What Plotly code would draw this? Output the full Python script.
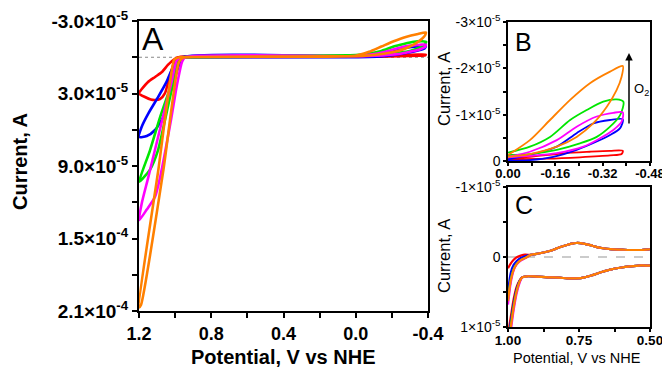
import plotly.graph_objects as go

FONT = "Liberation Sans, Arial, sans-serif"
W, H = 662, 368

series_names = ["red", "blue", "green", "magenta", "orange"]
series_colors = {"red": "#ff0000", "blue": "#0000ff", "green": "#00e600",
                 "magenta": "#ff00ff", "orange": "#ff8000"}

# ---------------- Panel A : oxidation region (V vs NHE, current A) ----------------
a_red_ox_v = [0.95, 0.984, 1.017, 1.04, 1.073, 1.111, 1.15, 1.2, 1.167, 1.135, 1.111, 1.084, 1.056, 1.028, 1.0, 0.98]
a_red_ox_i = [0, 0, 3.1e-6, 6.4e-6, 1.22e-5, 1.63e-5, 2.05e-5, 3.0e-5, 3.29e-5, 3.5e-5, 3.54e-5, 3.46e-5, 2.96e-5, 1.47e-5, 2.3e-6, 0]

a_blue_ox_v = [0.94, 0.964, 1.019, 1.047, 1.093, 1.148, 1.185, 1.2, 1.157, 1.111, 1.065, 1.038, 1.01, 0.982, 0.955]
a_blue_ox_i = [0, 0, 1.06e-5, 2.02e-5, 3.26e-5, 4.64e-5, 5.75e-5, 6.6e-5, 6.52e-5, 6.02e-5, 4.92e-5, 3.54e-5, 2.16e-5, 7.8e-6, 0]

a_green_ox_v = [0.94, 0.956, 0.99, 1.028, 1.084, 1.139, 1.2, 1.19, 1.139, 1.095, 1.056, 1.017, 0.973, 0.945]
a_green_ox_i = [0, 0, 6.4e-6, 2.55e-5, 5.0e-5, 7.7e-5, 1.03e-4, 1.02e-4, 9.3e-5, 7.7e-5, 5.2e-5, 2.55e-5, 2.3e-6, 0]

a_magenta_ox_v = [0.95, 0.99, 1.017, 1.069, 1.148, 1.185, 1.2, 1.157, 1.111, 1.084, 1.023, 0.99, 0.962, 0.945]
a_magenta_ox_i = [0, 2.5e-6, 1.88e-5, 5.05e-5, 9.9e-5, 1.21e-4, 1.35e-4, 1.26e-4, 1.155e-4, 1.0e-4, 5.2e-5, 2.3e-5, 3.9e-6, 0]

a_orange_ox_v = [0.973, 0.992, 1.006, 1.093, 1.2, 1.189, 1.065, 0.979, 0.96, 0.945]
a_orange_ox_i = [0, 7e-7, 2.3e-6, 9.33e-5, 2.07e-4, 2.05e-4, 9.33e-5, 3.9e-6, 8e-7, 0]

# ---------------- Panel B : O2 reduction region ----------------
b_red_v = [0, -0.074, -0.187, -0.277, -0.345, -0.388, -0.384, -0.345, -0.243, -0.131, 0]
b_red_i = [-0.6e-6, -0.9e-6, -1.66e-6, -2.0e-6, -2.2e-6, -2.2e-6, -1.5e-6, -1.2e-6, -0.8e-6, -0.5e-6, -0.4e-6]

b_blue_v = [0, -0.074, -0.165, -0.232, -0.288, -0.345, -0.388, -0.379, -0.345, -0.3, -0.232, -0.153, -0.074, 0]
b_blue_i = [-0.4e-6, -1.3e-6, -3.1e-6, -6.0e-6, -8.1e-6, -8.85e-6, -9.0e-6, -7.1e-6, -5.6e-6, -4.2e-6, -2.4e-6, -0.9e-6, -0.2e-6, -0.1e-6]

b_green_v = [0, -0.074, -0.142, -0.21, -0.266, -0.322, -0.367, -0.39, -0.379, -0.345, -0.3, -0.243, -0.165, -0.074, 0]
b_green_i = [-1.8e-6, -3.1e-6, -5.2e-6, -8.85e-6, -1.1e-5, -1.28e-5, -1.33e-5, -1.28e-5, -9.9e-6, -7.4e-6, -5.2e-6, -3.8e-6, -2.4e-6, -1.5e-6, -1.3e-6]

b_magenta_v = [0, -0.074, -0.165, -0.232, -0.3, -0.356, -0.388, -0.384, -0.356, -0.311, -0.255, -0.165, -0.074, 0]
b_magenta_i = [-0.9e-6, -2.0e-6, -4.5e-6, -7.4e-6, -9.6e-6, -1.04e-5, -1.05e-5, -8.5e-6, -6.7e-6, -4.9e-6, -3.1e-6, -1.7e-6, -1.1e-6, -0.8e-6]

b_orange_v = [0, -0.074, -0.142, -0.21, -0.277, -0.345, -0.388, -0.384, -0.367, -0.334, -0.288, -0.232, -0.165, -0.074, 0]
b_orange_i = [-1.3e-6, -4.5e-6, -8.85e-6, -1.32e-5, -1.68e-5, -1.93e-5, -2.05e-5, -1.82e-5, -1.53e-5, -1.17e-5, -8.1e-6, -5.2e-6, -3.1e-6, -1.5e-6, -0.9e-6]

# ---------------- Panel C : 1.0 - 0.5 V region ----------------
c_head_v = [1.0, 0.99, 0.98, 0.97, 0.955, 0.94]
c_red_head = [1.6e-6, 0.9e-6, 0.4e-6, 0.05e-6, -0.2e-6, -0.35e-6]
c_blue_head = [5.0e-6, 2.2e-6, 1.1e-6, 0.6e-6, 0.15e-6, -0.1e-6]
c_green_head = [6.0e-6, 3.2e-6, 1.7e-6, 1.0e-6, 0.45e-6, 0.15e-6]
c_magenta_head = [6.8e-6, 3.6e-6, 1.9e-6, 1.1e-6, 0.5e-6, 0.2e-6]
c_orange_head = [6.3e-6, 3.3e-6, 1.8e-6, 1.05e-6, 0.45e-6, 0.15e-6]

c_upper_v = [0.92, 0.9, 0.875, 0.85, 0.83, 0.81, 0.79, 0.775, 0.76, 0.745, 0.73, 0.71, 0.69, 0.665, 0.64, 0.6, 0.57, 0.53, 0.48]
c_upper_i = [-0.3e-6, -0.45e-6, -0.65e-6, -0.9e-6, -1.2e-6, -1.5e-6, -1.75e-6, -1.92e-6, -2.0e-6, -1.98e-6,
             -1.88e-6, -1.7e-6, -1.45e-6, -1.25e-6, -1.12e-6, -1.05e-6, -1.0e-6, -1.0e-6, -1.0e-6]

c_lower_v = [0.48, 0.53, 0.57, 0.6, 0.64, 0.67, 0.7, 0.73, 0.76, 0.79, 0.82, 0.86, 0.9, 0.93, 0.95]
c_lower_i = [1.1e-6, 1.2e-6, 1.35e-6, 1.5e-6, 1.8e-6, 2.15e-6, 2.55e-6, 2.9e-6, 3.05e-6, 3.05e-6,
             2.95e-6, 2.9e-6, 2.8e-6, 2.75e-6, 2.9e-6]

c_tail_v = [0.96, 0.97, 0.98, 0.99, 1.0]
c_red_tail = [3.4e-6, 4.3e-6, 6.0e-6, 8.5e-6, 1.1e-5]
c_blue_tail = [3.5e-6, 4.6e-6, 6.6e-6, 9.2e-6, 1.2e-5]
c_green_tail = [3.6e-6, 4.9e-6, 7.0e-6, 9.7e-6, 1.25e-5]
c_magenta_tail = [3.8e-6, 5.3e-6, 7.6e-6, 1.05e-5, 1.35e-5]
c_orange_tail = [3.6e-6, 5.0e-6, 7.2e-6, 1.0e-5, 1.3e-5]

# ---------------- tick labels ----------------
a_xticks = [1.2, 0.8, 0.4, 0.0, -0.4]
a_xticktext = ["1.2", "0.8", "0.4", "0.0", "-0.4"]
a_yticks = [-3e-5, 3e-5, 9e-5, 1.5e-4, 2.1e-4]
a_yticktext = ["-3.0×10<sup>-5</sup>", "3.0×10<sup>-5</sup>", "9.0×10<sup>-5</sup>",
               "1.5×10<sup>-4</sup>", "2.1×10<sup>-4</sup>"]
b_xticks = [0.0, -0.16, -0.32, -0.48]
b_xticktext = ["0.00", "-0.16", "-0.32", "-0.48"]
b_yticks = [0, -1e-5, -2e-5, -3e-5]
b_yticktext = ["0", "-1×10<sup>-5</sup>", "-2×10<sup>-5</sup>", "-3×10<sup>-5</sup>"]
c_xticks = [1.0, 0.75, 0.5]
c_xticktext = ["1.00", "0.75", "0.50"]
c_yticks = [-1e-5, 0, 1e-5]
c_yticktext = ["-1×10<sup>-5</sup>", "0", "1×10<sup>-5</sup>"]

A_ox = {"red": (a_red_ox_v, a_red_ox_i), "blue": (a_blue_ox_v, a_blue_ox_i),
        "green": (a_green_ox_v, a_green_ox_i), "magenta": (a_magenta_ox_v, a_magenta_ox_i),
        "orange": (a_orange_ox_v, a_orange_ox_i)}
B_red = {"red": (b_red_v, b_red_i), "blue": (b_blue_v, b_blue_i),
         "green": (b_green_v, b_green_i), "magenta": (b_magenta_v, b_magenta_i),
         "orange": (b_orange_v, b_orange_i)}
C_head = {"red": c_red_head, "blue": c_blue_head, "green": c_green_head,
          "magenta": c_magenta_head, "orange": c_orange_head}
C_tail = {"red": c_red_tail, "blue": c_blue_tail, "green": c_green_tail,
          "magenta": c_magenta_tail, "orange": c_orange_tail}

fig = go.Figure()

for name in series_names:
    col = series_colors[name]
    ov, oi = A_ox[name]
    bv, bi = B_red[name]
    fig.add_trace(go.Scatter(x=ov + bv + [ov[0]], y=oi + bi + [oi[0]], mode="lines",
                             line=dict(color=col, width=2.6, shape="spline", smoothing=0.6),
                             xaxis="x", yaxis="y", showlegend=False))
    fig.add_trace(go.Scatter(x=bv, y=bi, mode="lines",
                             line=dict(color=col, width=1.8, shape="spline", smoothing=0.8),
                             xaxis="x2", yaxis="y2", showlegend=False))
    cx = c_head_v + c_upper_v + c_lower_v + c_tail_v
    cy = C_head[name] + c_upper_i + c_lower_i + C_tail[name]
    fig.add_trace(go.Scatter(x=cx, y=cy, mode="lines",
                             line=dict(color=col, width=2.2, shape="spline", smoothing=0.8),
                             xaxis="x3", yaxis="y3", showlegend=False))


def ax_common(lw, tl, tw):
    return dict(showline=True, linecolor="black", linewidth=lw, mirror=True,
                ticks="outside", ticklen=tl, tickwidth=tw, tickcolor="black",
                showgrid=False, zeroline=False, automargin=False, tickmode="array",
                ticklabeloverflow="allow")


def px_x(p):
    return p / W


def px_y(p):
    return 1 - p / H


fig.update_layout(
    width=W, height=H, margin=dict(l=0, r=0, t=0, b=0),
    paper_bgcolor="white", plot_bgcolor="white", autosize=False,
    font=dict(family=FONT, color="black"),
    xaxis=dict(**ax_common(2, 5, 2), domain=[px_x(139), px_x(428)], range=[1.2, -0.40001], anchor="y",
               tickvals=a_xticks, ticktext=a_xticktext,
               tickfont=dict(family=FONT, size=18, weight="bold"),
               minor=dict(tickmode="array", tickvals=[1.0, 0.6, 0.2, -0.2], ticks="outside",
                          ticklen=5, tickwidth=2, tickcolor="black")),
    yaxis=dict(**ax_common(2, 5, 2), domain=[px_y(311), px_y(21)], range=[2.10001e-4, -3.0001e-5], anchor="x",
               tickvals=a_yticks, ticktext=a_yticktext,
               tickfont=dict(family=FONT, size=19, weight="bold"),
               minor=dict(tickmode="array", tickvals=[0, 6e-5, 1.2e-4, 1.8e-4], ticks="outside",
                          ticklen=5, tickwidth=2, tickcolor="black")),
    xaxis2=dict(**ax_common(1.5, 3, 1.5), domain=[px_x(508), px_x(650)], range=[0.00001, -0.48001], anchor="y2",
                tickvals=b_xticks, ticktext=b_xticktext, ticklabelstandoff=-3,
                tickfont=dict(family=FONT, size=13, weight="bold"),
                minor=dict(tickmode="array", tickvals=[-0.08, -0.24, -0.40], ticks="outside",
                           ticklen=3, tickwidth=1.5, tickcolor="black")),
    yaxis2=dict(**ax_common(1.5, 3, 1.5), domain=[px_y(161), px_y(22)], range=[1e-10, -3.0001e-5], anchor="x2",
                tickvals=b_yticks, ticktext=b_yticktext,
                tickfont=dict(family=FONT, size=14),
                minor=dict(tickmode="array", tickvals=[-0.5e-5, -1.5e-5, -2.5e-5], ticks="outside",
                           ticklen=3, tickwidth=1.5, tickcolor="black")),
    xaxis3=dict(**ax_common(1.5, 3, 1.5), domain=[px_x(508), px_x(650)], range=[1.00001, 0.49999], anchor="y3",
                tickvals=c_xticks, ticktext=c_xticktext, ticklabelstandoff=-3,
                tickfont=dict(family=FONT, size=13.5, weight="bold"),
                minor=dict(tickmode="array", tickvals=[0.875, 0.625], ticks="outside",
                           ticklen=3, tickwidth=1.5, tickcolor="black")),
    yaxis3=dict(**ax_common(1.5, 3, 1.5), domain=[px_y(327), px_y(187)], range=[1.0001e-5, -1.0001e-5], anchor="x3",
                tickvals=c_yticks, ticktext=c_yticktext,
                tickfont=dict(family=FONT, size=14),
                minor=dict(tickmode="array", tickvals=[-0.5e-5, 0.5e-5], ticks="outside",
                           ticklen=3, tickwidth=1.5, tickcolor="black")),
)

# zero reference lines
fig.add_shape(type="line", xref="x domain", yref="y", x0=0, x1=1, y0=0, y1=0,
              line=dict(color="#888888", width=1, dash="dot"), layer="below")
fig.add_shape(type="line", xref="x3 domain", yref="y3", x0=0, x1=1, y0=0, y1=0,
              line=dict(color="#bbbbbb", width=1.5, dash="dash"), layer="below")


def ann(text, x, y, size, angle=0, bold=False):
    fig.add_annotation(text=("<b>%s</b>" % text) if bold else text,
                       xref="paper", yref="paper", x=px_x(x), y=px_y(y),
                       xanchor="center", yanchor="middle", showarrow=False,
                       textangle=angle, font=dict(family=FONT, size=size, color="black"))


ann("Current, A", 20, 162, 20, -90, True)
ann("Potential, V vs NHE", 283, 357, 20, 0, True)
ann("Current, A", 444, 89, 16.5, -90)
ann("Current, A", 444, 256, 16.5, -90)
ann("Potential, V vs NHE", 577, 358, 14.5)
ann("A", 153, 39, 32)
ann("B", 523, 42, 25)
ann("C", 523.5, 205, 25)
ann("O<sub>2</sub>", 641, 90, 13)

# O2 arrow
fig.add_annotation(xref="paper", yref="paper", x=px_x(629), y=px_y(53), ax=0, ay=72,
                   text="", showarrow=True, arrowhead=2, arrowsize=1, arrowwidth=1.5,
                   arrowcolor="black")

fig.write_html("out.html", config={"displayModeBar": False},
               post_script="document.body.style.margin='0px';document.body.style.overflow='hidden';")
